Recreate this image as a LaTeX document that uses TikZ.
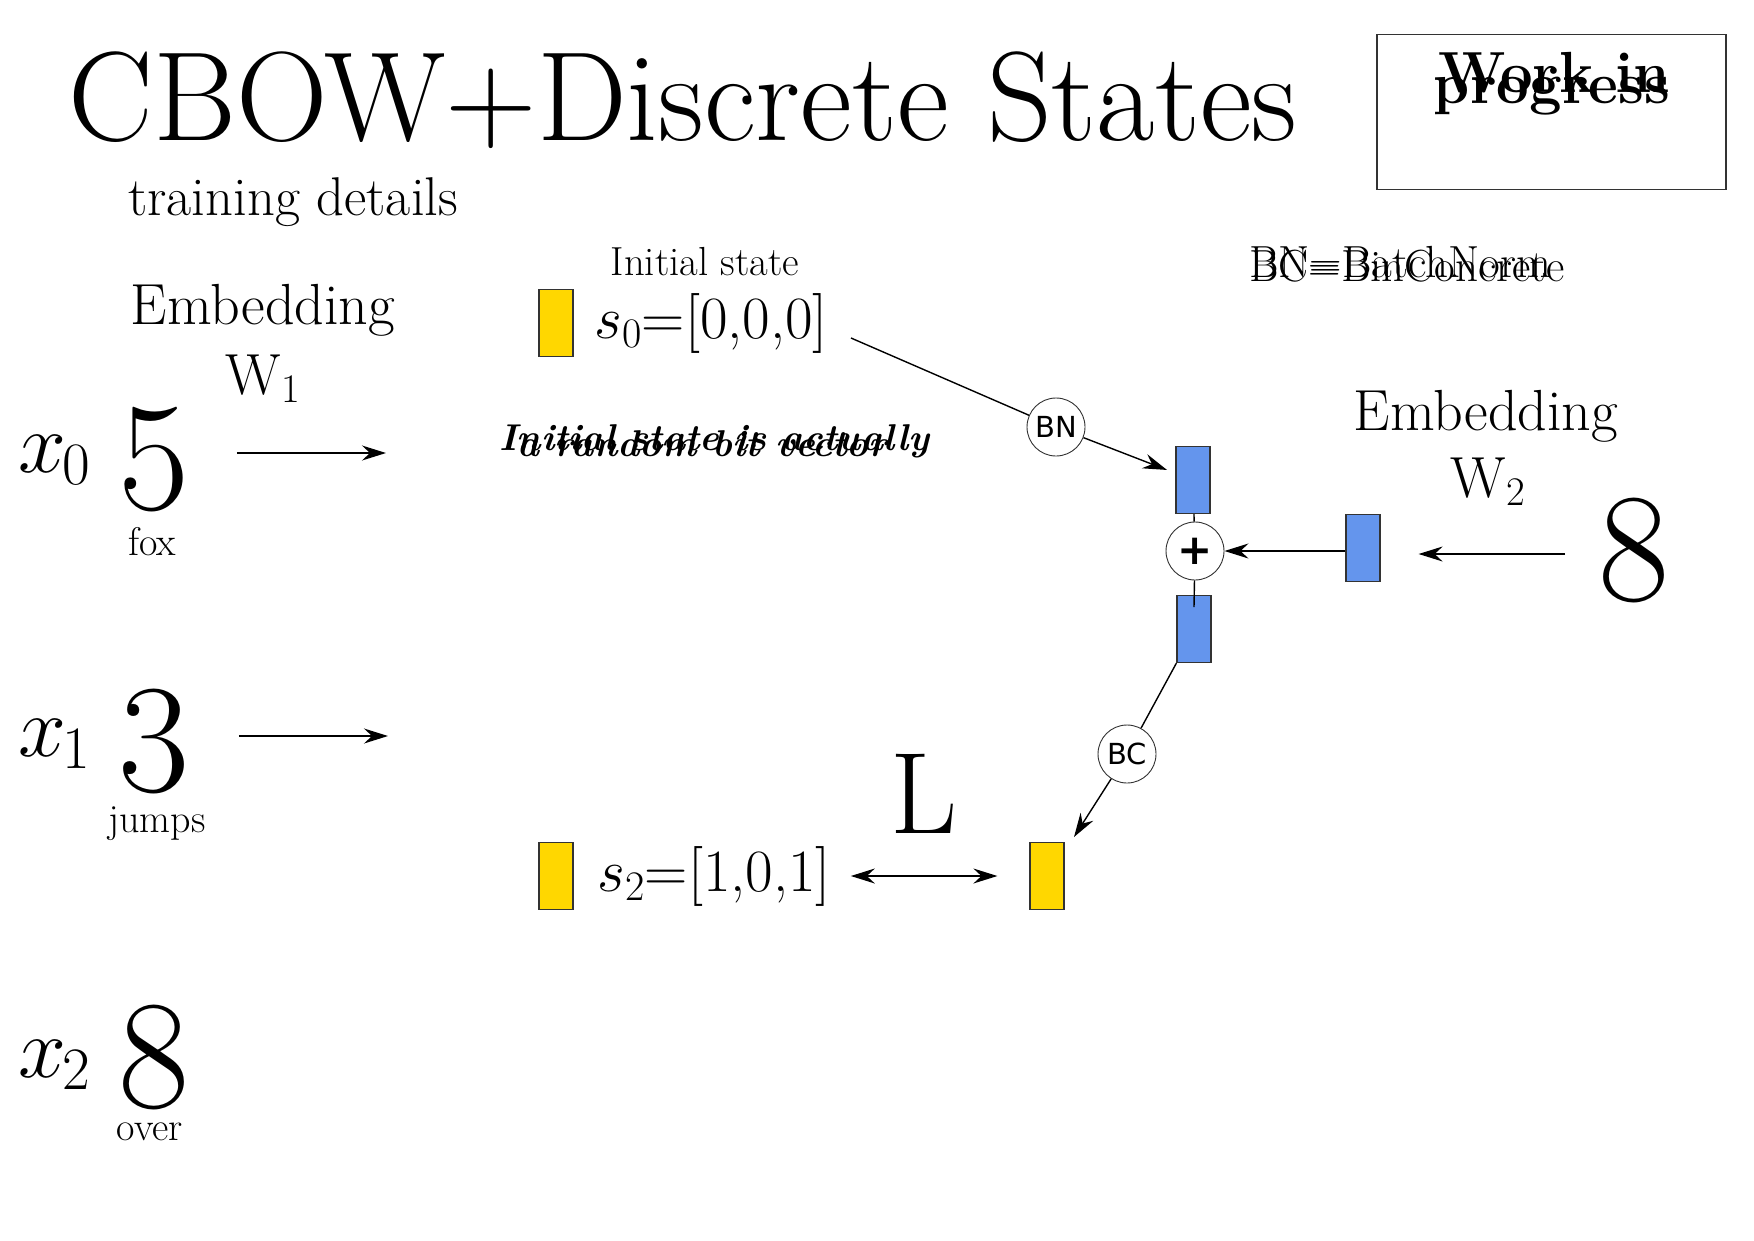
\RequirePackage{fix-cm}
\documentclass[tikz,border=0pt]{standalone}
\usepackage{fontspec}
\newfontfamily\dejavu{DejaVu Sans}
\usetikzlibrary{arrows.meta}
\definecolor{stateyellow}{HTML}{FFD700}
\definecolor{stateblue}{HTML}{6495ED}
\definecolor{edgegray}{HTML}{333333}
\newcommand\fsz[1]{\fontsize{#1}{#1}\selectfont}

\begin{document}
\begin{tikzpicture}[x=1pt,y=-1pt,
  txt/.style={inner sep=0pt, anchor=base},
  txtw/.style={inner sep=0pt, anchor=base west},
  statebox/.style={draw=edgegray, line width=1.2pt, minimum width=34pt, minimum height=67pt, inner sep=0pt},
  ybox/.style={statebox, fill=stateyellow},
  bbox/.style={statebox, fill=stateblue},
  opcirc/.style={circle, draw=edgegray, line width=0.9pt, minimum size=58pt, inner sep=0pt, fill=white, font=\dejavu\fsz{29}},
  conn/.style={line width=1.4pt},
  arr/.style={conn, -{Stealth[length=24pt, width=15pt, inset=8pt]}},
  dblarr/.style={conn, {Stealth[length=24pt, width=15pt, inset=8pt]}-{Stealth[length=24pt, width=15pt, inset=8pt]}},
]
\useasboundingbox (0,0) rectangle (1754,1240);

% heading
\node[txtw] (title) at (68,140) {\fsz{127}CBOW+Discrete States};
\node[txtw] (sub) at (128,215) {\fsz{54.6}training details};

% status box
\node[draw=edgegray, line width=1.4pt, minimum width=349pt, minimum height=155pt, inner sep=0pt] (wip) at (1551.5,112) {};
\node[txt, font=\bfseries\fsz{58}] (wip1) at (1554,92) {Work in};
\node[txt, font=\bfseries\fsz{58}] (wip2) at (1552,103) {progress};

% legend
\node[txtw] (lg1) at (1249,277) {\fsz{45}BN=BatchNorm};
\node[txtw] (lg2) at (1249,281) {\fsz{45}BC=BinConcrete};

% input words
\node[txt] (emb1) at (263,324) {\fsz{58}Embedding};
\node[txt] (w1) at (263,394) {\fsz{58}W$_1$};

\node[txtw] (x0) at (18,472) {\fsz{86}$x_{\kern-4pt 0}$};
\node[txt] (d0) at (154,509) {\fsz{155}5};
\node[txt] (t0) at (152,555) {\fsz{40}fox};

\node[txtw] (x1) at (18,756) {\fsz{86}$x_{\kern-4pt 1}$};
\node[txt] (d1) at (154,791) {\fsz{155}3};
\node[txt] (t1) at (157,832) {\fsz{40}jumps};

\node[txtw] (x2) at (18,1077) {\fsz{86}$x_{\kern-4pt 2}$};
\node[txt] (d2) at (154,1107) {\fsz{155}8};
\node[txt] (t2) at (150,1140) {\fsz{40}over};

\coordinate (a0e) at (386,453);
\coordinate (a1e) at (388,736);
\draw[arr] ([xshift=47pt]d0.east |- a0e) -- (a0e);
\draw[arr] ([xshift=49pt]d1.east |- a1e) -- (a1e);

% states
\node[txt] (init) at (705,275) {\fsz{40.6}Initial state};
\node[ybox] (y0) at (556,323) {};
\node[txt] (s0) at (711,338) {\fsz{60}$s_0$=[0,0,0]};
\coordinate (s0out) at (851,338);

\node[txtw, font=\bfseries\itshape\fsz{37.3}] (note1) at (499,450) {Initial state is actually};
\node[txtw, font=\bfseries\itshape\fsz{37.3}] (note2) at (517,456) {a random bit vector};

\node[ybox] (y1) at (556,876) {};
\node[txt] (s2) at (714,891) {\fsz{60}$s_2$=[1,0,1]};
\node[ybox] (y2) at (1047,876) {};
\node[txt] (loss) at (924,833) {\fsz{116}L};

% combination of state and next word
\node[bbox] (b1) at (1193,480) {};
\node[opcirc, font=\dejavu\bfseries\fsz{42}] (plus) at (1195,551) {+};
\node[bbox] (b2) at (1194,629) {};
\node[bbox] (b3) at (1363,548) {};
\node[opcirc] (bn) at (1056,427) {BN};
\node[opcirc] (bc) at (1127,754) {BC};

\node[txt] (emb2) at (1486,430) {\fsz{58}Embedding};
\node[txt] (w2) at (1488,497) {\fsz{58}W$_2$};
\node[txt] (d3) at (1634,600) {\fsz{155}8};
\coordinate (a3s) at (1565,554);
\coordinate (plusin) at (1194,607);
\coordinate (bcend) at (1074,837);

\draw[conn] (s0out) -- (bn);
\draw[arr, shorten >=9pt] (bn) -- (b1);
\draw[conn] (b1) -- (plus);
\draw[conn] (plus) -- (plusin);
\draw[arr] (b3.west |- plus.east) -- (plus.east);
\draw[arr, shorten >=38pt] (a3s) -- (b3.east |- a3s);
\draw[conn] (b2.south west) -- (bc);
\draw[arr] (bc) -- (bcend);
\draw[dblarr, shorten <=20pt, shorten >=32pt] (s2.east |- y2.west) -- (y2.west);

\end{tikzpicture}
\end{document}
